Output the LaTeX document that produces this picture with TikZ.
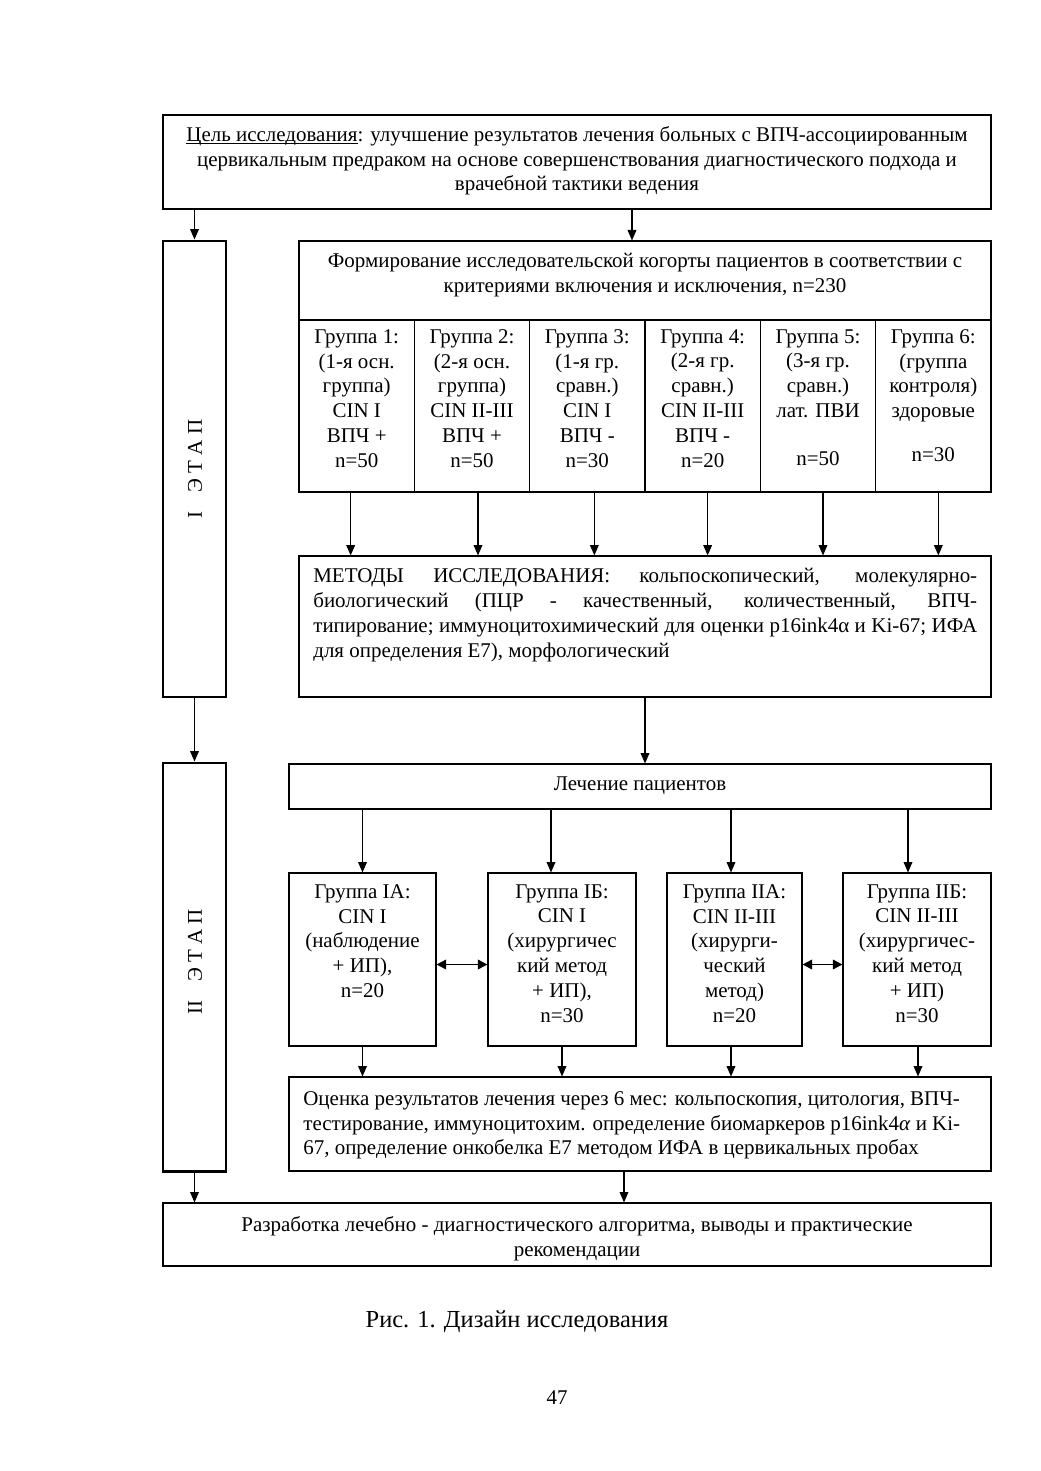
\documentclass[tikz,border=0pt]{standalone}
\usepackage{fontspec}
\setmainfont{Liberation Serif}
\usetikzlibrary{arrows.meta,fit}
\def\p{0.5724pt}
\newcommand\ulinetxt[1]{{\setbox0\hbox{#1}\rlap{\rule[-1.6pt]{\wd0}{0.5pt}}\box0}}
\begin{document}
\begin{tikzpicture}[x=0.5724pt,y=-0.5724pt,
  box/.style={draw, line width=0.6pt, inner sep=0pt},
  stagebox/.style={draw, line width=1.7pt, inner sep=0pt},
  txt/.style={inner sep=0pt, font=\fontsize{12}{14.2}\selectfont, align=center, anchor=north},
  ltxt/.style={inner sep=0pt, font=\fontsize{12}{14.2}\selectfont, align=left, anchor=north west},
  stagetxt/.style={inner sep=0pt, rotate=90, font=\fontsize{12}{14}\selectfont},
  arr/.style={line width=0.7pt, -{Triangle[length=6pt,width=5pt]}},
  darr/.style={line width=0.9pt, {Triangle[length=5.5pt,width=5.5pt]}-{Triangle[length=5.5pt,width=5.5pt]}}]
\useasboundingbox (0,0) rectangle (1040,1471);

% ---- boxes ----
\node[box, fit={(163,115)(991,209)}] (goal) {};
\node[stagebox, fit={(163,241)(226,697)}] (st1) {};
\node[box, fit={(299,241)(991,320)}] (head) {};
\node[box, fit={(299,320)(414.3,492)}] (g1) {};
\node[box, fit={(414.3,320)(529.7,492)}] (g2) {};
\node[box, fit={(529.7,320)(645,492)}] (g3) {};
\node[box, fit={(645,320)(760.3,492)}] (g4) {};
\node[box, fit={(760.3,320)(875.7,492)}] (g5) {};
\node[box, fit={(875.7,320)(991,492)}] (g6) {};
\node[box, fit={(299,556)(991,697)}] (methods) {};
\node[stagebox, fit={(163,763)(226,1171)}] (st2) {};
\node[box, fit={(289,764)(991,809)}] (treat) {};
\node[box, fit={(289,873)(436,1046)}] (ia) {};
\node[box, fit={(488,873)(636,1046)}] (ib) {};
\node[box, fit={(667,873)(802,1046)}] (iia) {};
\node[box, fit={(843,873)(991,1046)}] (iib) {};
\node[box, fit={(289,1077)(991,1171)}] (eval) {};
\node[box, fit={(163,1203)(991,1266)}] (final) {};

% ---- texts ----
\node[txt] (goalT) at (577,126) {\ulinetxt{Цель исследования}: улучшение результатов лечения больных с ВПЧ-ассоциированным\\
цервикальным предраком на основе совершенствования диагностического подхода и\\
врачебной тактики ведения};
\node[stagetxt] (st1T) at (195,469) {I\hspace{11pt}Э Т А П};
\node[txt] (headT) at (645,253) {Формирование исследовательской когорты пациентов в соответствии с\\
критериями включения и исключения, n=230};
\node[txt] (g1T) at (356.7,329) {Группа 1:\\(1-я осн.\\группа)\\CIN I\\ВПЧ +\\n=50};
\node[txt] (g2T) at (472,329) {Группа 2:\\(2-я осн.\\группа)\\CIN II-III\\ВПЧ +\\n=50};
\node[txt] (g3T) at (587.3,329) {Группа 3:\\(1-я гр.\\сравн.)\\CIN I\\ВПЧ -\\n=30};
\node[txt] (g4T) at (702.7,329) {Группа 4:\\(2-я гр.\\сравн.)\\CIN II-III\\ВПЧ -\\n=20};
\node[txt] (g5T) at (818,329) {Группа 5:\\(3-я гр.\\сравн.)\\лат. ПВИ\\[13pt]n=50};
\node[txt] (g6T) at (933.3,329) {Группа 6:\\(группа\\контроля)\\здоровые\\[11pt]n=30};
\node[ltxt] (methodsT) at (313,568) {\makebox[380pt][s]{МЕТОДЫ ИССЛЕДОВАНИЯ: кольпоскопический, молекулярно-}\\
\makebox[380pt][s]{биологический (ПЦР - качественный, количественный, ВПЧ-}\\
\makebox[380pt][s]{типирование; иммуноцитохимический для оценки p16ink4α и Ki-67; ИФА}\\
для определения Е7), морфологический};
\node[stagetxt] (st2T) at (195,962) {II\hspace{11pt}Э Т А П};
\node[txt] (treatT) at (640,776) {Лечение пациентов};
\node[txt] (iaT) at (362.5,884) {Группа IА:\\CIN I\\(наблюдение\\+ ИП),\\n=20};
\node[txt] (ibT) at (562,884) {Группа IБ:\\CIN I\\(хирургичес\\кий метод\\+ ИП),\\n=30};
\node[txt] (iiaT) at (734.5,884) {Группа IIА:\\CIN II-III\\(хирурги-\\ческий\\метод)\\n=20};
\node[txt] (iibT) at (917,884) {Группа IIБ:\\CIN II-III\\(хирургичес-\\кий метод\\+ ИП)\\n=30};
\node[ltxt] (evalT) at (303,1091) {Оценка результатов лечения через 6 мес: кольпоскопия, цитология, ВПЧ-\\
тестирование, иммуноцитохим. определение биомаркеров p16ink4\textit{α} и Ki-\\
67, определение онкобелка Е7 методом ИФА в цервикальных пробах};
\node[txt] (finalT) at (577,1216) {Разработка лечебно - диагностического алгоритма, выводы и практические\\
рекомендации};
\node[inner sep=0pt, anchor=base, font=\fontsize{14}{16}\selectfont] (caption) at (517,1327) {Рис. 1. Дизайн исследования};
\node[inner sep=0pt, anchor=base, font=\fontsize{12}{14}\selectfont] (pagenum) at (557,1404) {47};

% ---- connector anchor points ----
\coordinate (c2) at ([xshift=-13*\p]head.north);
\coordinate (a1) at ([xshift=-6*\p]g1.south);
\coordinate (a2) at ([xshift=6*\p]g2.south);
\coordinate (a3) at ([xshift=7*\p]g3.south);
\coordinate (a4) at ([xshift=5*\p]g4.south);
\coordinate (a5) at ([xshift=5*\p]g5.south);
\coordinate (a6) at ([xshift=5*\p]g6.south);
\coordinate (b1) at (ia.north);
\coordinate (b2) at ([xshift=-11*\p]ib.north);
\coordinate (b3) at ([xshift=-3.5*\p]iia.north);
\coordinate (b4) at ([xshift=-9*\p]iib.north);
\coordinate (e3) at ([xshift=-3.5*\p]iia.south);
\coordinate (e4) at ([xshift=1*\p]iib.south);
\coordinate (f1) at ([xshift=-16*\p]eval.south);
\coordinate (d1) at ([yshift=-5*\p]ia.east);
\coordinate (d2) at ([yshift=-5*\p]iia.east);

% ---- connectors ----
\draw[arr] (goal.south -| st1.north) -- (st1.north);
\draw[arr] (c2 |- goal.south) -- (c2);
\foreach \a in {a1,a2,a3,a4,a5,a6}{\draw[arr] (\a) -- (\a |- methods.north);}
\draw[arr] (methods.south) -- (methods.south |- treat.north);
\draw[arr] (st1.south) -- (st2.north);
\foreach \b in {b1,b2,b3,b4}{\draw[arr] (\b |- treat.south) -- (\b);}
\draw[arr] (ia.south) -- (ia.south |- eval.north);
\draw[arr] (ib.south) -- (ib.south |- eval.north);
\draw[arr] (e3) -- (e3 |- eval.north);
\draw[arr] (e4) -- (e4 |- eval.north);
\draw[arr] (f1) -- (f1 |- final.north);
\draw[arr] (st2.south) -- (st2.south |- final.north);
\draw[darr] (d1) -- (d1 -| ib.west);
\draw[darr] (d2) -- (d2 -| iib.west);
\end{tikzpicture}
\end{document}
